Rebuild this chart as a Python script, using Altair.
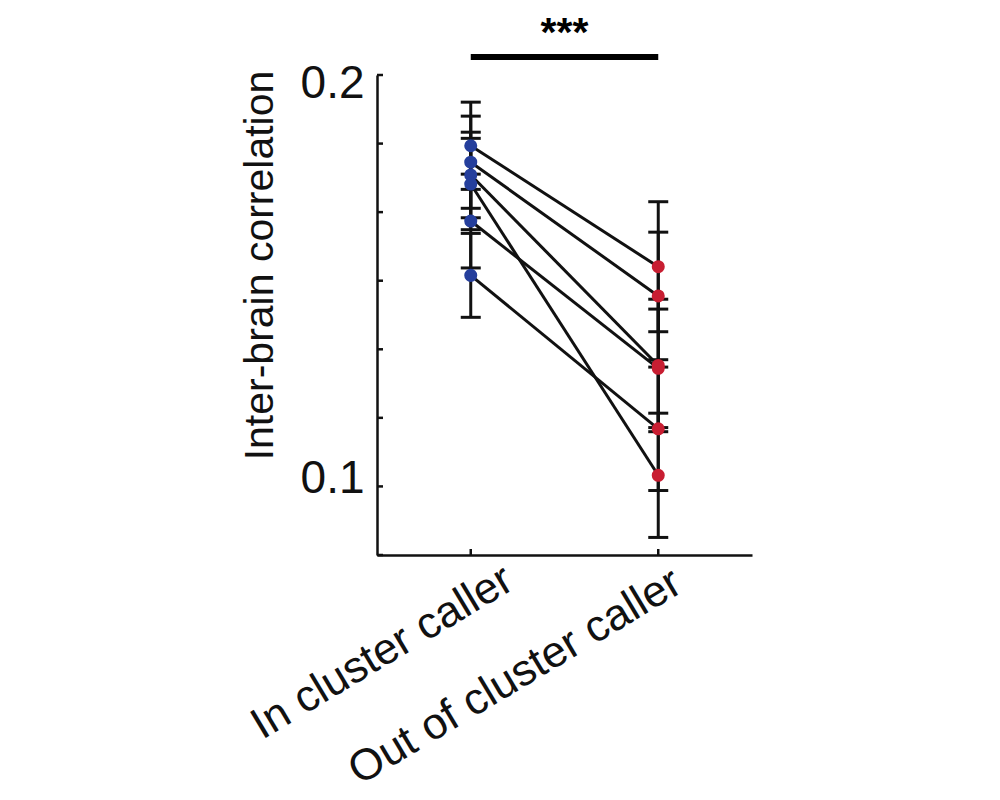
import altair as alt
import pandas as pd

# ---- data ----
conditions = ["In cluster caller", "Out of cluster caller"]
cond_pos = [1, 2]
in_vals = [0.1828, 0.1788, 0.1757, 0.1735, 0.1645, 0.1513]
in_err = [0.0106, 0.0112, 0.0104, 0.0111, 0.0114, 0.0102]
out_vals = [0.1534, 0.1463, 0.1294, 0.1027, 0.1287, 0.1140]
out_err = [0.0158, 0.0155, 0.0161, 0.0151, 0.0144, 0.0150]
y_tick_values = [0.08333, 0.1, 0.11667, 0.13333, 0.15, 0.16667, 0.18333, 0.2]
y_label_values = [0.1, 0.2]
sig_text = "***"

rows = []
for i in range(len(in_vals)):
    rows.append(dict(pair=i, pos=cond_pos[0], val=in_vals[i], err=in_err[i], cond=conditions[0]))
    rows.append(dict(pair=i, pos=cond_pos[1], val=out_vals[i], err=out_err[i], cond=conditions[1]))
df = pd.DataFrame(rows)
df["lo"] = df["val"] - df["err"]
df["hi"] = df["val"] + df["err"]

REG = "Liberation Sans, Arial, Helvetica, sans-serif"
INK = "#111111"

xscale = alt.Scale(domain=[0.5, 2.5], nice=False, zero=False)
yscale = alt.Scale(domain=[y_tick_values[0], y_tick_values[-1]], nice=False, zero=False)

label_expr = "datum.value == 1 ? '%s' : '%s'" % (conditions[0], conditions[1])
xaxis = alt.Axis(
    values=cond_pos, labelExpr=label_expr, labelAngle=-31, labelAlign="right",
    labelBaseline="middle", labelFont=REG, labelFontSize=44, labelColor=INK, labelLimit=0,
    labelPadding=alt.condition("datum.value == 1", alt.value(21), alt.value(24)),
    labelOffset=alt.condition("datum.value == 1", alt.value(38), alt.value(19)),
    labelOverlap=False, labelFlush=False, ticks=False, tickSize=0, grid=False,
    domainColor=INK, domainWidth=2.5, title=None,
)
yaxis = alt.Axis(
    values=y_label_values, format=".1f", labelFont=REG, labelFontSize=46, labelColor=INK,
    labelPadding=13,
    labelOffset=alt.condition("datum.value > 0.15", alt.value(8), alt.value(-8)),
    labelOverlap=False, labelFlush=False, ticks=False, tickSize=0, grid=False,
    domainColor=INK, domainWidth=2.5,
    title="Inter-brain correlation", titleFont=REG, titleFontSize=41, titleFontWeight="normal",
    titleColor=INK, titleAngle=270, titleX=-105, titleY=190, titleAlign="center",
    titleBaseline="alphabetic",
)

X = lambda f: alt.X(f, type="quantitative", scale=xscale, axis=xaxis)
Y = lambda f: alt.Y(f, type="quantitative", scale=yscale, axis=yaxis)

base = alt.Chart(df)

lines = base.mark_line(color=INK, strokeWidth=3).encode(x=X("pos"), y=Y("val"), detail="pair:N")
bars = base.mark_rule(color=INK, strokeWidth=3, opacity=1).encode(x=X("pos"), y=Y("lo"), y2="hi")
caps = base.transform_fold(["lo", "hi"], as_=["k", "v"]).mark_tick(
    orient="horizontal", size=20, thickness=3, color=INK, opacity=1
).encode(x=X("pos"), y=Y("v"))
points = base.mark_circle(size=170, opacity=1).encode(
    x=X("pos"), y=Y("val"),
    color=alt.Color("cond:N", scale=alt.Scale(domain=conditions, range=["#253f9c", "#c81e32"]), legend=None),
)

ytick_df = pd.DataFrame({"t": y_tick_values})
yticks = alt.Chart(ytick_df).mark_rule(color=INK, strokeWidth=2.5).encode(
    y=Y("t"), x=alt.value(0), x2=alt.value(6)
)
xtick_df = pd.DataFrame({"p": cond_pos})
xticks = alt.Chart(xtick_df).mark_rule(color=INK, strokeWidth=2.5).encode(
    x=X("p"), y=alt.value(480), y2=alt.value(474)
)

sig_df = pd.DataFrame({"a": [cond_pos[0]], "b": [cond_pos[1]], "m": [(cond_pos[0] + cond_pos[1]) / 2], "t": [sig_text]})
sig_bar = alt.Chart(sig_df).mark_rule(color="#000000", strokeWidth=6).encode(
    x=X("a"), x2="b", y=alt.value(-18)
)
sig_lab = alt.Chart(sig_df).mark_text(
    font=REG, fontSize=41, fontWeight="bold", color="#000000", baseline="alphabetic", align="center"
).encode(x=X("m"), y=alt.value(-29), text="t:N")

chart = alt.layer(lines, bars, caps, points, yticks, xticks, sig_bar, sig_lab).properties(
    width=375, height=480,
    autosize=alt.AutoSizeParams(type="none"),
    padding={"left": 369, "top": 67, "right": 240, "bottom": 240},
    background="white",
).configure_view(stroke=None)

chart.save("out.html", embed_options={"renderer": "svg", "actions": False})
